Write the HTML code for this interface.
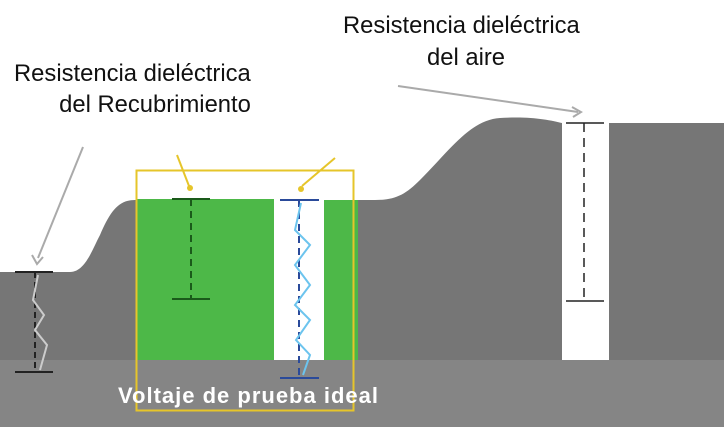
<!DOCTYPE html>
<html><head><meta charset="utf-8"><style>
html,body{margin:0;padding:0;background:#fff;width:726px;height:427px;overflow:hidden}
svg{display:block}
text{font-family:"Liberation Sans",sans-serif}
</style></head><body>
<svg width="726" height="427" viewBox="0 0 726 427">
<rect x="0" y="0" width="726" height="427" fill="#fff"/>
<path d="M0,272 L70,272 C85,272 92,250 100,235 C110,212 118,200 135,200 L375,200 C395,200 405,195 420,180 C450,150 470,120 500,118 C530,116 550,120 562,123 L562,360 L0,360 Z" fill="#767676"/>
<rect x="609" y="123" width="115" height="237" fill="#767676"/>
<rect x="0" y="360" width="724" height="67" fill="#858585"/>
<rect x="562" y="123" width="47" height="237" fill="#fff"/>
<rect x="137" y="199" width="137" height="161" fill="#4db848"/>
<rect x="324" y="200" width="34" height="160" fill="#4db848"/>
<rect x="274" y="199" width="50" height="161" fill="#fff"/>
<rect x="136.5" y="170.5" width="217" height="240" fill="none" stroke="#e6c52a" stroke-width="2"/>
<line x1="177" y1="155" x2="189" y2="186" stroke="#e6c52a" stroke-width="2"/>
<circle cx="190" cy="188" r="3" fill="#e6c52a"/>
<line x1="335" y1="158" x2="302" y2="186" stroke="#e6c52a" stroke-width="2"/>
<circle cx="301" cy="189" r="3" fill="#e6c52a"/>
<line x1="83" y1="147" x2="38" y2="258" stroke="#aaa" stroke-width="2"/>
<path d="M32,255 L37,264 L43,257" fill="none" stroke="#aaa" stroke-width="2"/>
<line x1="398" y1="86" x2="578" y2="112" stroke="#aaa" stroke-width="2"/>
<path d="M572,107 L581,112 L573,117" fill="none" stroke="#aaa" stroke-width="2"/>
<line x1="15" y1="272" x2="53" y2="272" stroke="#222" stroke-width="2"/>
<line x1="15" y1="372" x2="53" y2="372" stroke="#222" stroke-width="2"/>
<line x1="35" y1="272" x2="35" y2="372" stroke="#222" stroke-width="2" stroke-dasharray="6,4"/>
<path d="M38,275 L33,300 L44,315 L35,330 L47,345 L40,370" fill="none" stroke="#ccc" stroke-width="2"/>
<line x1="172" y1="199" x2="210" y2="199" stroke="#1a5a1a" stroke-width="2"/>
<line x1="172" y1="299" x2="210" y2="299" stroke="#1a5a1a" stroke-width="2"/>
<line x1="191" y1="199" x2="191" y2="299" stroke="#1a5a1a" stroke-width="2" stroke-dasharray="7,5"/>
<line x1="280" y1="200" x2="319" y2="200" stroke="#2a4a9a" stroke-width="2"/>
<line x1="280" y1="378" x2="319" y2="378" stroke="#2a4a9a" stroke-width="2"/>
<line x1="299" y1="200" x2="299" y2="378" stroke="#2a4a9a" stroke-width="2" stroke-dasharray="7,5"/>
<path d="M301,203 L295,230 L310,245 L295,265 L310,285 L295,305 L310,320 L296,340 L310,355 L303,375" fill="none" stroke="#6cc4ee" stroke-width="2"/>
<line x1="566" y1="123" x2="604" y2="123" stroke="#222" stroke-width="1.5"/>
<line x1="566" y1="301" x2="604" y2="301" stroke="#222" stroke-width="1.5"/>
<line x1="584" y1="123" x2="584" y2="301" stroke="#222" stroke-width="1.5" stroke-dasharray="9,6"/>
<text x="14" y="81" font-size="23.8" fill="#111">Resistencia dieléctrica</text>
<text x="155" y="112" font-size="23.8" fill="#111" text-anchor="middle">del Recubrimiento</text>
<text x="343" y="33" font-size="23.8" fill="#111">Resistencia dieléctrica</text>
<text x="466" y="65" font-size="23.8" fill="#111" text-anchor="middle">del aire</text>
<text x="118" y="403" font-size="22" font-weight="bold" fill="#fff" textLength="260" lengthAdjust="spacing">Voltaje de prueba ideal</text>
</svg>
</body></html>
